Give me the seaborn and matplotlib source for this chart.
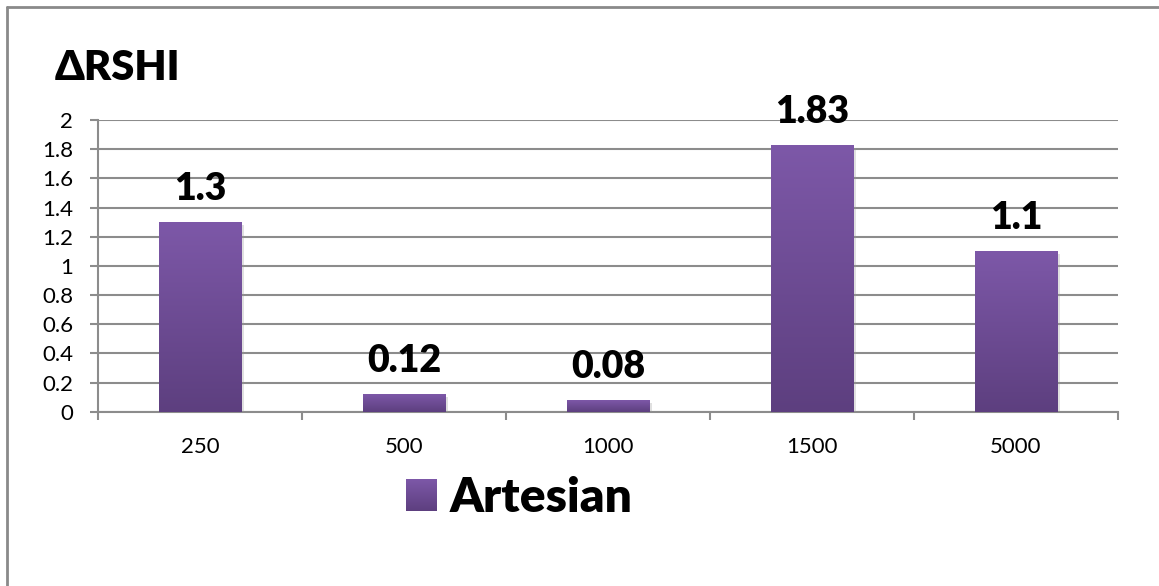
import numpy as np
import pandas as pd
import matplotlib
matplotlib.use("Agg")
import matplotlib.pyplot as plt
import seaborn as sns
from matplotlib.colors import LinearSegmentedColormap
from matplotlib.lines import Line2D
from matplotlib.patches import Patch
import matplotlib.patheffects as pe

# Data
categories = ["250", "500", "1000", "1500", "5000"]
delta_rshi = [1.3, 0.12, 0.08, 1.83, 1.1]
value_labels = ["1.3", "0.12", "0.08", "1.83", "1.1"]
series_name = "Artesian"
y_ticks = [0, 0.2, 0.4, 0.6, 0.8, 1.0, 1.2, 1.4, 1.6, 1.8, 2.0]
y_tick_labels = ["0", "0.2", "0.4", "0.6", "0.8", "1", "1.2", "1.4", "1.6", "1.8", "2"]

sns.set_theme(style="white")
plt.rcParams["font.family"] = ["Lato", "DejaVu Sans"]
plt.rcParams["text.color"] = "black"

W, H = 1159, 586
fig = plt.figure(figsize=(W / 100, H / 100), dpi=100)
ax = fig.add_axes([98 / W, 1 - 411.7 / H, (1118 - 98) / W, (411.7 - 120) / H])

df = pd.DataFrame({"dist": categories, "val": delta_rshi})
top_col = "#7D58A8"
bot_col = "#5D3F7F"
mid_col = "#6E4C96"
sns.barplot(data=df, x="dist", y="val", order=categories, color=mid_col,
            width=0.404, saturation=1, ax=ax, zorder=3)

grad = LinearSegmentedColormap.from_list("bar_grad", [bot_col, top_col])
g = np.linspace(0, 1, 256).reshape(-1, 1)
ax.set_ylim(0, 2)
ax.set_xlim(-0.5, len(categories) - 0.5)

# Vertical gradient fill for each bar
for p in ax.patches:
    p.set_edgecolor("none")
    p.set_path_effects([pe.SimplePatchShadow(offset=(2, -2), shadow_rgbFace="#999999", alpha=0.3),
                        pe.Normal()])
    x0, y0 = p.get_x(), p.get_y()
    x1, y1 = x0 + p.get_width(), y0 + p.get_height()
    im = ax.imshow(g, cmap=grad, extent=[x0, x1, y0, y1], origin="lower",
                   aspect="auto", zorder=4, interpolation="bilinear")
    im.set_clip_path(p)

ax.set_ylim(0, 2)
ax.set_xlim(-0.5, len(categories) - 0.5)

# Value labels above bars
for i, (v, lab) in enumerate(zip(delta_rshi, value_labels)):
    ax.annotate(lab, xy=(i, v), xytext=(0, 16), textcoords="offset points",
                ha="center", va="baseline", fontsize=27, fontweight="heavy",
                color="black", zorder=6)

# Grid and axes
grid_col = "#8C8C8C"
ax.set_yticks(y_ticks)
ax.set_yticklabels(y_tick_labels)
ax.yaxis.grid(True, color=grid_col, linewidth=1.5, zorder=0)
ax.xaxis.grid(False)
ax.set_axisbelow(True)
for s in ["top", "right"]:
    ax.spines[s].set_visible(False)
for s in ["left", "bottom"]:
    ax.spines[s].set_color(grid_col)
    ax.spines[s].set_linewidth(1.5)
    ax.spines[s].set_zorder(2)

ax.tick_params(axis="y", which="major", direction="out", length=5.8, width=1.5,
               color=grid_col, pad=12, labelsize=16, labelcolor="black", left=True)
ax.set_xticks(range(len(categories)))
ax.set_xticklabels(categories)
ax.tick_params(axis="x", which="major", length=0, pad=18.5, labelsize=16, labelcolor="black")
ax.set_xticks(np.arange(-0.5, len(categories)), minor=True)
ax.tick_params(axis="x", which="minor", direction="out", length=5.8, width=1.5,
               color=grid_col, bottom=True)
ax.set_xlabel("")
ax.set_ylabel("")

# Title
fig.text(55 / W, 1 - 80 / H, "ΔRSHI", fontsize=30, fontweight="heavy",
         ha="left", va="baseline", family=["Lato", "DejaVu Sans"])

# Legend
handle = Patch(facecolor=mid_col, edgecolor="none")
leg = fig.legend([handle], [series_name], loc="center", bbox_to_anchor=(519.5 / W, 1 - 498 / H),
                 frameon=False, prop={"size": 34.5, "weight": "heavy"}, labelcolor="black",
                 handlelength=0.63, handleheight=0.63, handletextpad=0.29, borderpad=0)

# Gradient fill for the legend swatch
fig.canvas.draw()
hb = leg.legend_handles[0].get_window_extent().transformed(fig.transFigure.inverted())
sw = fig.add_axes([hb.x0, hb.y0, hb.width, hb.height])
sw.imshow(g, cmap=grad, origin="lower", aspect="auto", interpolation="bilinear")
sw.set_axis_off()
leg.legend_handles[0].set_alpha(0)

# Outer frame (top and left edges)
fig.add_artist(Line2D([6.5 / W, 1], [1 - 6.5 / H, 1 - 6.5 / H], transform=fig.transFigure,
                      color="#8A8A8A", linewidth=2))
fig.add_artist(Line2D([6.5 / W, 6.5 / W], [0, 1 - 6.5 / H], transform=fig.transFigure,
                      color="#8A8A8A", linewidth=2))

fig.savefig("out.png", dpi=100, facecolor="white")
